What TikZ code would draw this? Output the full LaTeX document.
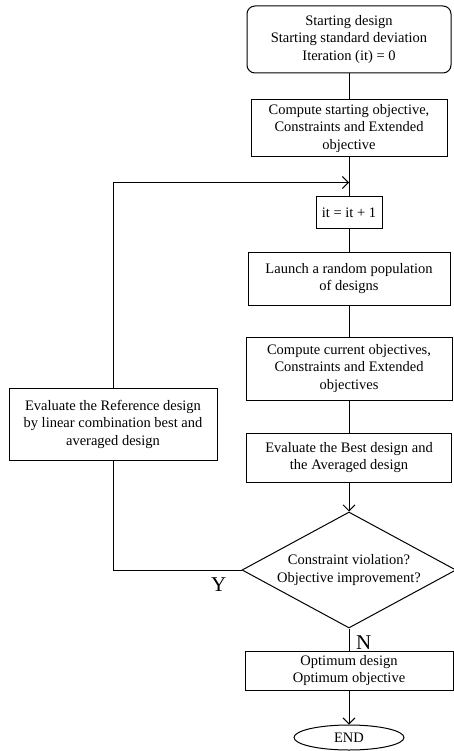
\documentclass[tikz,border=0pt]{standalone}
\usepackage{fontspec}
\setmainfont{Liberation Serif}
\usetikzlibrary{positioning}
\usetikzlibrary{shapes.geometric}
\usetikzlibrary{arrows.meta}
\tikzset{x=1pt, y=1pt,
node distance=89pt, % Centre to centre distance of two steps. Change per node if necessary.
every node/.style={font=\fontsize{14.5}{17.5}\selectfont},
process/.style={ % Sets the properties for each rectangular step
draw, line width=1pt, align=center, inner sep=2pt},
begin/.style={process, rounded corners=8pt},
decision/.style={draw, line width=1pt, diamond, align=center, aspect=2, inner sep=0pt,
minimum width=214pt, minimum height=116pt},
finish/.style={draw, line width=1pt, ellipse, inner sep=0pt,
minimum width=110pt, minimum height=25pt},
flag/.style={font=\fontsize{21}{21}\selectfont, inner sep=0pt}, % Y and N of the decision
link/.style={draw, line width=0.9pt},
every edge/.style={ % Sets the properties for each connector
link,
>={Straight Barb[length=6pt,width=12pt]}}}

\begin{document}
\begin{tikzpicture}
				\useasboundingbox (0,0) rectangle (453,-751);

				\node[begin, minimum width=204pt, minimum height=67pt] at (349,-39.5) (start) {Starting design\\Starting standard deviation\\Iteration (it) = 0};
				\node[process, minimum width=196pt, minimum height=57pt, below of=start] (comp0) {Compute starting objective,\\Constraints and Extended\\objective};
				\node[process, minimum width=66pt, minimum height=31pt, node distance=84pt, below of=comp0] (it) {it = it + 1};
				\node[process, minimum width=202pt, minimum height=53pt, node distance=66pt, below of=it] (launch) {Launch a random population\\of designs};
				\node[process, minimum width=206pt, minimum height=63pt, node distance=90pt, below of=launch] (compcur) {Compute current objectives,\\Constraints and Extended\\objectives};
				\node[process, minimum width=205pt, minimum height=49pt, below of=compcur] (best) {Evaluate the Best design and\\the Averaged design};
				\node[decision, node distance=112.5pt, below of=best] (dec) {Constraint violation?\\Objective improvement?};
				\node[process, minimum width=208pt, minimum height=39pt, node distance=100.5pt, below of=dec] (opt) {Optimum design\\Optimum objective};
				\node[finish, node distance=67pt, below of=opt] (end) {END};
				\node[process, minimum width=208pt, minimum height=72pt] at (113,-424) (ref) {Evaluate the Reference design\\by linear combination best and\\averaged design};

				\path (comp0.south) ++(0,-25) coordinate (join);

				\node[flag, below left=8pt and 15pt of dec.west] (yes) {Y};
				\node[flag, below right=7pt and 7pt of dec.south] (no) {N};

				\draw (start) edge (comp0);
				\draw (comp0) edge (it);
				\draw (it) edge (launch);
				\draw (launch) edge (compcur);
				\draw (compcur) edge (best);
				\draw (best) edge[->] (dec);
				\draw (dec) edge (opt);
				\draw (opt) edge[->] (end);

				\draw[link] (dec.west) -| (ref.south);
				\draw[link, -{Straight Barb[length=6pt,width=12pt]}] (ref.north) |- (join);
			\end{tikzpicture}
\end{document}
